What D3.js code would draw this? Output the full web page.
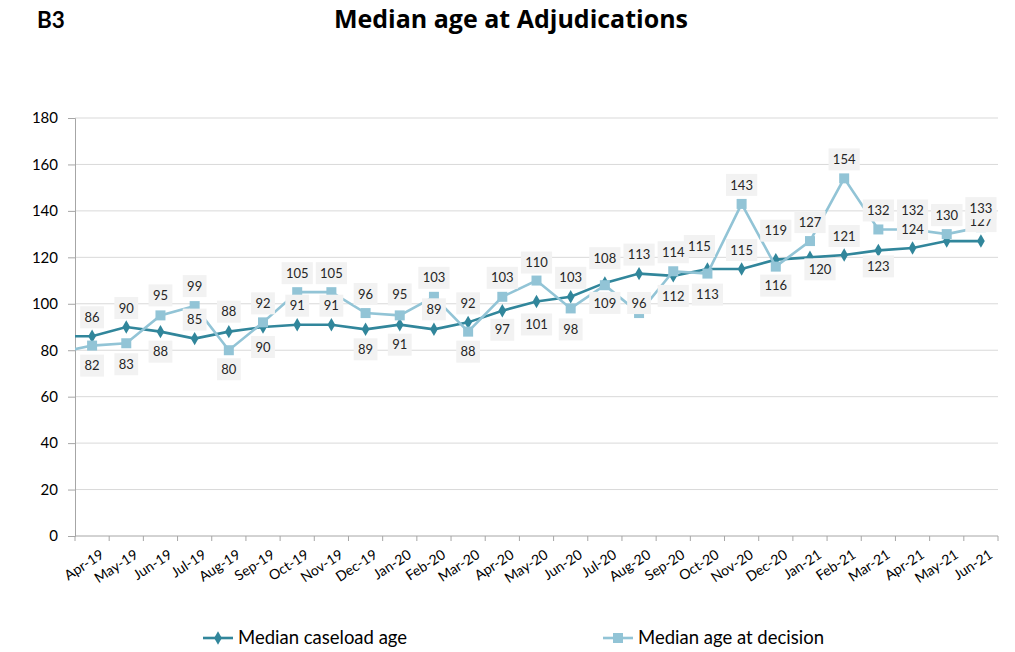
<!DOCTYPE html>
<html>
<head>
<meta charset="utf-8">
<script src="https://cdn.jsdelivr.net/npm/d3@7"></script>
<style>
  html, body { margin: 0; padding: 0; background: #fff; }
  svg { display: block; font-family: Lato, "Open Sans", sans-serif; }
</style>
</head>
<body>
<svg id="chart" width="1015" height="652"></svg>
<script>
// Month categories
const months = ["Apr-19","May-19","Jun-19","Jul-19","Aug-19","Sep-19","Oct-19","Nov-19","Dec-19",
  "Jan-20","Feb-20","Mar-20","Apr-20","May-20","Jun-20","Jul-20","Aug-20","Sep-20","Oct-20",
  "Nov-20","Dec-20","Jan-21","Feb-21","Mar-21","Apr-21","May-21","Jun-21"];

// Median caseload age (days)
const caseloadAge = [86,90,88,85,88,90,91,91,89,91,89,92,97,101,103,109,113,112,115,115,119,120,121,123,124,127,127];
// Median age at decision (days)
const decisionAge = [82,83,95,99,80,92,105,105,96,95,103,88,103,110,98,108,96,114,113,143,116,127,154,132,132,130,133];

// Values for the month before the first category (line runs in from the axis)
const priorCaseload = 86;
const priorDecision = 79;

const yTicks = [0,20,40,60,80,100,120,140,160,180];

// Label placement (pixel shifts from each marker)
const caseloadLabelDy = [-19,-19,20,-19,-20,20,-19,-19,20,20,-20,-19,19,23,-19,20,-19,20,-23,-19,-29,12,-19,16,-19,-26,-20];
const caseloadLabelDx = [0,0,0,0,0,0,0,0,0,0,0,0,0,0,0,0,0,0,-8,0,0,10,0,0,0,0,0];
const decisionLabelDy = [20,21,-20,-20,19,-19,-19,-19,-19,-21,-19,20,-19,-18,21,-27,-10,-19,21,-19,19,-19,-19,-19,-19,-19,-19];

const svg = d3.select("#chart");
const plot = { left: 75, right: 998, top: 118, bottom: 536 };

const caseColor = "#31869b";
const decColor = "#92c4d6";

const x = d3.scaleBand().domain(months).range([plot.left, plot.right]);
const cx = i => x(months[i]) + x.bandwidth() / 2;
const y = d3.scaleLinear().domain([0, 180]).range([plot.bottom, plot.top]);

// Headings
svg.append("text").attr("x", 37).attr("y", 28)
  .attr("font-size", 22.5).attr("font-weight", 700).attr("fill", "#000").text("B3");
svg.append("text").attr("x", 511).attr("y", 28).attr("text-anchor", "middle")
  .attr("font-family", "'Open Sans', Lato, sans-serif")
  .attr("font-size", 25).attr("font-weight", 700).attr("fill", "#000").text("Median age at Adjudications");

// Gridlines
svg.append("g").selectAll("line").data(yTicks.filter(t => t > 0)).join("line")
  .attr("x1", plot.left).attr("x2", plot.right)
  .attr("y1", d => y(d)).attr("y2", d => y(d))
  .attr("stroke", "#d9d9d9").attr("stroke-width", 1);

// Y axis
const yAxis = svg.append("g").attr("transform", `translate(${plot.left},0)`)
  .call(d3.axisLeft(y).tickValues(yTicks).tickSize(7).tickPadding(10));
yAxis.select(".domain").attr("stroke", "#a6a6a6");
yAxis.selectAll(".tick line").attr("stroke", "#a6a6a6");
yAxis.selectAll(".tick text").attr("font-size", 15).attr("fill", "#000")
  .attr("font-family", "Lato, 'Open Sans', sans-serif");

// X axis with ticks at category boundaries
svg.append("line").attr("x1", plot.left).attr("x2", plot.right)
  .attr("y1", plot.bottom).attr("y2", plot.bottom).attr("stroke", "#a6a6a6");
svg.append("g").selectAll("line").data(d3.range(months.length + 1)).join("line")
  .attr("x1", i => plot.left + i * x.step()).attr("x2", i => plot.left + i * x.step())
  .attr("y1", plot.bottom).attr("y2", plot.bottom + 5).attr("stroke", "#a6a6a6");
svg.append("g").selectAll("text").data(months).join("text")
  .attr("transform", (d, i) => `translate(${cx(i) + 10},${plot.bottom + 17}) rotate(-33)`)
  .attr("text-anchor", "end").attr("dy", "0.35em")
  .attr("font-size", 14).attr("fill", "#000").text(d => d);

// Clip so the lead-in segment starts at the axis
svg.append("clipPath").attr("id", "plotClip").append("rect")
  .attr("x", plot.left).attr("y", 0).attr("width", plot.right - plot.left + 20).attr("height", 652);

const line = d3.line().x(d => d.x).y(d => y(d.v));
const pts = (prior, vals) => [{ x: cx(0) - x.step(), v: prior }].concat(vals.map((v, i) => ({ x: cx(i), v })));

const diamond = d3.symbol().type(d3.symbolDiamond).size(52);
const square = d3.symbol().type(d3.symbolSquare).size(100);

// Caseload series
svg.append("path").attr("clip-path", "url(#plotClip)")
  .attr("d", line(pts(priorCaseload, caseloadAge)))
  .attr("fill", "none").attr("stroke", caseColor).attr("stroke-width", 2.6);
svg.append("g").selectAll("path").data(caseloadAge).join("path")
  .attr("transform", (d, i) => `translate(${cx(i)},${y(d)})`)
  .attr("d", diamond).attr("fill", caseColor);

// Decision series
svg.append("path").attr("clip-path", "url(#plotClip)")
  .attr("d", line(pts(priorDecision, decisionAge)))
  .attr("fill", "none").attr("stroke", decColor).attr("stroke-width", 2.6);
svg.append("g").selectAll("path").data(decisionAge).join("path")
  .attr("transform", (d, i) => `translate(${cx(i)},${y(d)})`)
  .attr("d", square).attr("fill", decColor);

// Data labels in light boxes
function labels(vals, dys, dxs) {
  const g = svg.append("g");
  vals.forEach((v, i) => {
    const lx = cx(i) + (dxs ? dxs[i] : 0);
    const ly = y(v) + dys[i];
    const txt = String(v);
    const w = txt.length * 7.4 + 9;
    g.append("rect").attr("x", lx - w / 2).attr("y", ly - 11).attr("width", w).attr("height", 22)
      .attr("fill", "#f2f2f2");
    g.append("text").attr("x", lx).attr("y", ly).attr("dy", "0.36em").attr("text-anchor", "middle")
      .attr("font-size", 13).attr("fill", "#262626").text(txt);
  });
}
labels(caseloadAge, caseloadLabelDy, caseloadLabelDx);
labels(decisionAge, decisionLabelDy, null);

// Legend
const legend = [
  { name: "Median caseload age", color: caseColor, sym: diamond, x: 203 },
  { name: "Median age at decision", color: decColor, sym: square, x: 603 }
];
const lg = svg.append("g");
legend.forEach(l => {
  lg.append("line").attr("x1", l.x).attr("x2", l.x + 30).attr("y1", 638).attr("y2", 638)
    .attr("stroke", l.color).attr("stroke-width", 2.6);
  lg.append("path").attr("transform", `translate(${l.x + 15},638)`).attr("d", l.sym).attr("fill", l.color);
  lg.append("text").attr("x", l.x + 35).attr("y", 638).attr("dy", "0.35em")
    .attr("font-size", 18.5).attr("fill", "#000").text(l.name);
});
</script>
</body>
</html>
